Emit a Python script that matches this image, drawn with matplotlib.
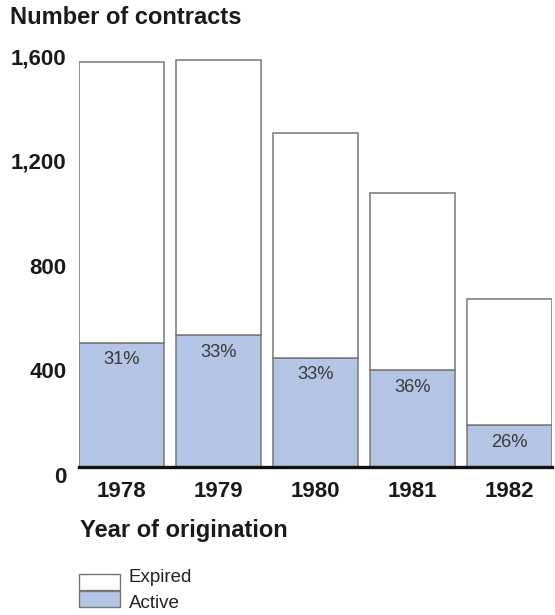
import matplotlib.pyplot as plt
import matplotlib.transforms as mtransforms
from matplotlib.patches import Rectangle
import numpy as np

plt.rcParams['font.family'] = ['Liberation Sans', 'DejaVu Sans']

years = ['1978', '1979', '1980', '1981', '1982']
total = [1548, 1555, 1277, 1048, 642]
active = [475, 504, 418, 369, 160]
pct_labels = ['31%', '33%', '33%', '36%', '26%']
yticks = [0, 400, 800, 1200, 1600]
ytick_labels = ['0', '400', '800', '1,200', '1,600']
legend_labels = ['Expired', 'Active']

ACTIVE_COLOR = '#b3c4e5'
EDGE = '#777777'
W, H = 555, 615


def main():
    fig = plt.figure(figsize=(W / 100, H / 100), dpi=100)
    ax = fig.add_axes([79 / W, 148 / H, 473 / W, 419 / H])

    x = np.arange(len(years))
    expired = np.array(total) - np.array(active)
    ax.bar(x, active, width=0.876, color=ACTIVE_COLOR,
           edgecolor=EDGE, linewidth=1.1)
    ax.bar(x, expired, bottom=active, width=0.876, color='white',
           edgecolor=EDGE, linewidth=1.1)

    for xi, a, lab in zip(x, active, pct_labels):
        ax.annotate(lab, (xi, a), xytext=(0, -12.5), textcoords='offset points',
                    ha='center', va='center', fontsize=13.2, color='#3a3a3a')

    ax.set_xlim(-0.438, len(years) - 1 + 0.438)
    ax.set_ylim(0, 1600)
    ax.set_xticks(x)
    ax.set_xticklabels(years, fontsize=16, fontweight='bold', color='#1a1a1a')
    ax.set_yticks(yticks)
    ax.set_yticklabels(ytick_labels, fontsize=16, fontweight='bold', color='#1a1a1a')
    ax.tick_params(axis='both', length=0)
    ax.tick_params(axis='x', pad=10)
    ax.tick_params(axis='y', pad=9)

    # tick labels sit slightly below their values in the original
    offset = mtransforms.ScaledTranslation(0, -0.08, fig.dpi_scale_trans)
    for lbl in ax.get_yticklabels():
        lbl.set_transform(lbl.get_transform() + offset)

    for s in ['top', 'right', 'left']:
        ax.spines[s].set_visible(False)
    ax.spines['bottom'].set_linewidth(2.4)
    ax.spines['bottom'].set_color('#111111')
    ax.spines['bottom'].set_zorder(5)

    fig.text(10 / W, 1 - 18 / H, 'Number of contracts', fontsize=17,
             fontweight='bold', va='center', ha='left', color='#1a1a1a')
    fig.text(80 / W, 1 - 530 / H, 'Year of origination', fontsize=17,
             fontweight='bold', va='center', ha='left', color='#1a1a1a')

    # legend: stacked keys, labels spaced a bit wider than the keys
    key_colors = ['white', ACTIVE_COLOR]
    key_tops = [574, 591]
    text_y = [577, 604]
    for col, top, ty, lab in zip(key_colors, key_tops, text_y, legend_labels):
        fig.add_artist(Rectangle((79 / W, 1 - (top + 16) / H), 41 / W, 16 / H,
                                 transform=fig.transFigure, facecolor=col,
                                 edgecolor=EDGE, linewidth=1.0))
        fig.text(129 / W, 1 - ty / H, lab, fontsize=13.5, va='center',
                 ha='left', color='#222222')

    fig.savefig('out.png', dpi=100)


if __name__ == '__main__':
    main()
